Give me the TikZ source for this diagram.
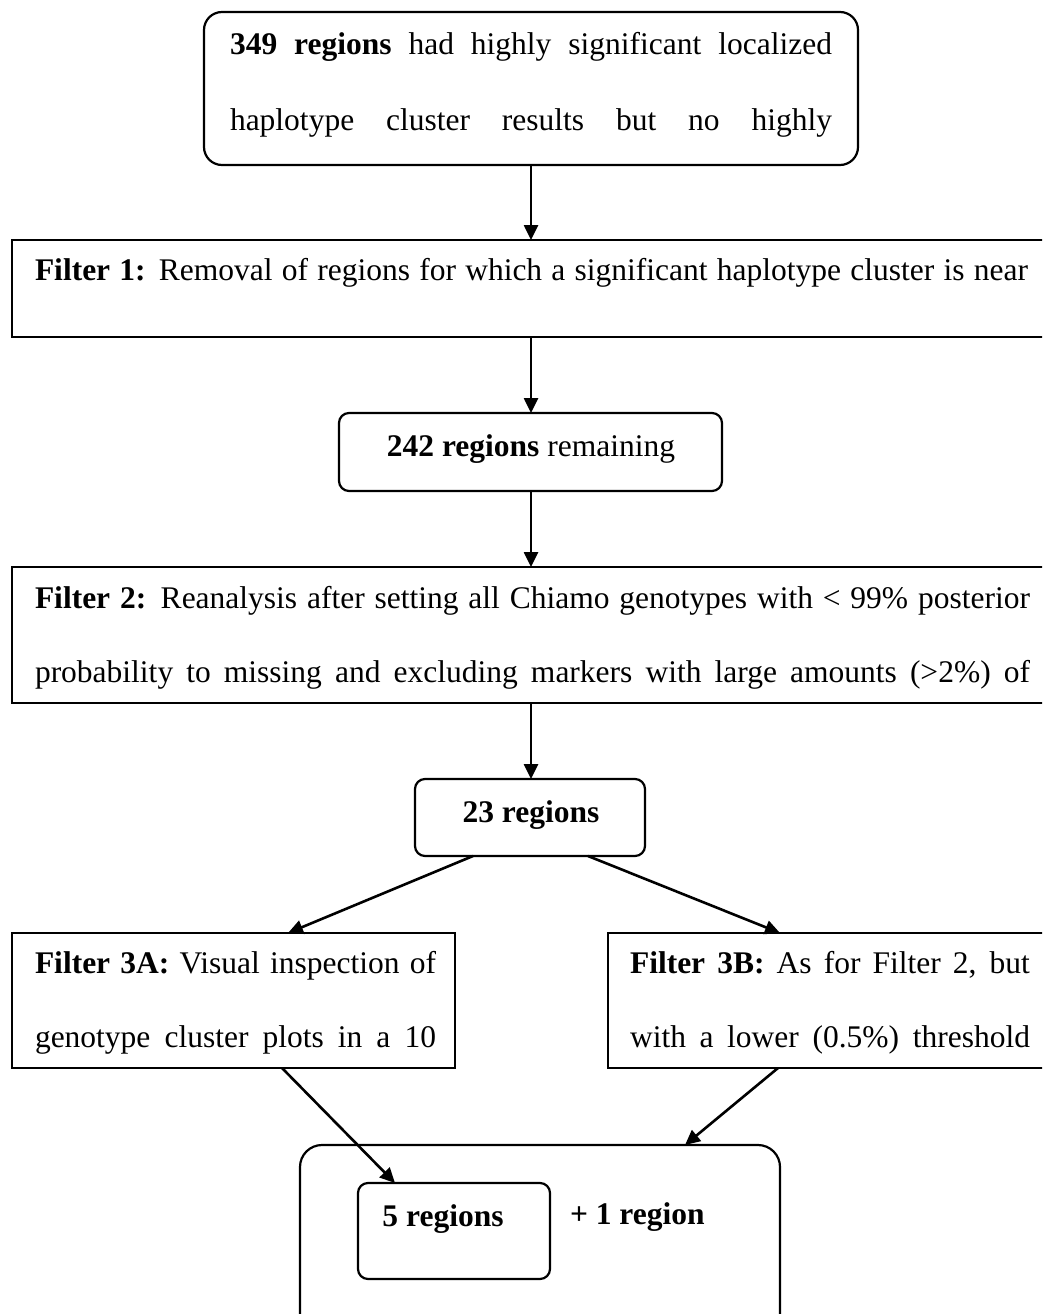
\documentclass[tikz,border=0pt]{standalone}
\usepackage{fontspec}
\setmainfont{Liberation Serif}
\usetikzlibrary{arrows.meta,calc}
\begin{document}
\begin{tikzpicture}[x=1pt,y=-1pt,
  box/.style={draw, line width=2.2pt, inner sep=0pt, outer sep=0pt},
  rbox/.style={box, rounded corners=#1},
  txt/.style={inner sep=0pt, outer sep=0pt, anchor=base west, font=\fontsize{31.5pt}{36pt}\selectfont},
  arr/.style={line width=2.6pt, -{Triangle[length=15pt,width=14pt]}}]
\useasboundingbox (0,0) rectangle (1042,1314);
\clip (0,0) rectangle (1042,1314);
% boxes
\node[rbox=18pt, minimum width=654pt, minimum height=153pt] (b1) at (531,88.5) {};
\node[box, minimum width=1040pt, minimum height=97pt] (f1) at (532,288.5) {};
\node[rbox=10pt, minimum width=383pt, minimum height=78pt] (b2) at (530.5,452) {};
\node[box, minimum width=1040pt, minimum height=136pt] (f2) at (532,635) {};
\node[rbox=10pt, minimum width=230pt, minimum height=77pt] (b3) at (530,817.5) {};
\node[box, minimum width=443pt, minimum height=135pt] (f3a) at (233.5,1000.5) {};
\node[box, minimum width=450pt, minimum height=135pt] (f3b) at (833,1000.5) {};
\node[rbox=22pt, minimum width=480pt, minimum height=200pt] (outer) at (540,1245) {};
\node[rbox=10pt, minimum width=192pt, minimum height=96pt] (inner) at (454,1231) {};
% texts
\node[txt] (t1a) at (230,55) {\makebox[602pt][s]{\textbf{349 regions} had highly significant localized}};
\node[txt] (t1b) at (230,130) {\makebox[602pt][s]{haplotype cluster results but no highly}};
\node[txt] (tf1) at (35,280) {\makebox[993pt][s]{\textbf{Filter 1:} Removal of regions for which a significant haplotype cluster is near}};
\node[txt, anchor=base] (t2) at (531,456) {\textbf{242 regions} remaining};
\node[txt] (tf2a) at (35,608) {\makebox[995pt][s]{\textbf{Filter 2:} Reanalysis after setting all Chiamo genotypes with < 99\% posterior}};
\node[txt] (tf2b) at (35,682) {\makebox[995pt][s]{probability to missing and excluding markers with large amounts (>2\%) of}};
\node[txt, anchor=base] (t3) at (531,822) {\textbf{23 regions}};
\node[txt] (tf3aa) at (35,973) {\makebox[401pt][s]{\textbf{Filter 3A:} Visual inspection of}};
\node[txt] (tf3ab) at (35,1047) {\makebox[401pt][s]{genotype cluster plots in a 10}};
\node[txt] (tf3ba) at (630,973) {\makebox[400pt][s]{\textbf{Filter 3B:} As for Filter 2, but}};
\node[txt] (tf3bb) at (630,1047) {\makebox[400pt][s]{with a lower (0.5\%) threshold}};
\node[txt, anchor=base] (t5) at (443,1226) {\textbf{5 regions}};
\node[txt] (t6) at (570,1224) {\textbf{+ 1 region}};
% connector end points
\coordinate (s3a) at (473,856);
\coordinate (e3a) at (288,933);
\coordinate (s3b) at (588,856);
\coordinate (e3b) at (780,933);
\coordinate (s4a) at (282,1068);
\coordinate (e4a) at (395,1183);
\coordinate (s4b) at (778,1068);
\coordinate (e4b) at (685,1145);
% arrows
\draw[arr] (b1.south) -- (b1.south |- f1.north);
\draw[arr] (b1.south |- f1.south) -- (b1.south |- b2.north);
\draw[arr] (b1.south |- b2.south) -- (b1.south |- f2.north);
\draw[arr] (b1.south |- f2.south) -- (b1.south |- b3.north);
\draw[arr] (s3a) -- (e3a);
\draw[arr] (s3b) -- (e3b);
\draw[arr] (s4a) -- (e4a);
\draw[arr] (s4b) -- (e4b);
\end{tikzpicture}
\end{document}
